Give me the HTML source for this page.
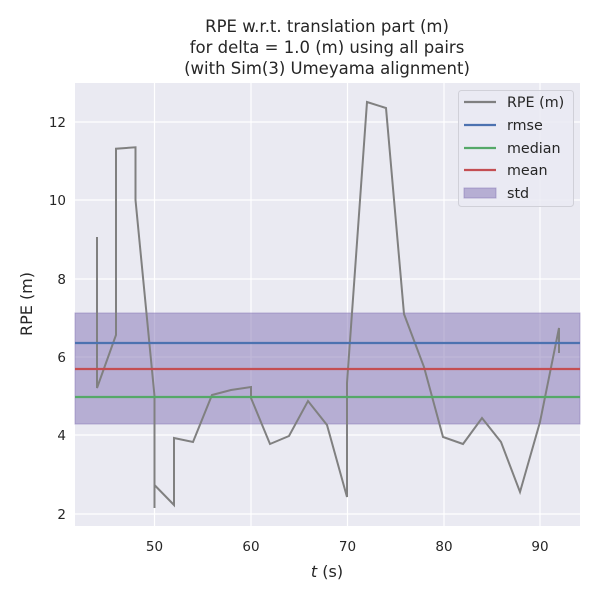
<!DOCTYPE html>
<html><head><meta charset="utf-8"><style>body{margin:0;background:#fff}svg{display:block}</style></head><body>
<svg width="600" height="600" xmlns="http://www.w3.org/2000/svg" font-family="DejaVu Sans, Liberation Sans, sans-serif">
<rect width="600" height="600" fill="#fff"/>
<rect x="75" y="83" width="505" height="443" fill="#eaeaf2"/>
<g stroke="#fff" stroke-width="1.2">
<line x1="154.5" y1="83" x2="154.5" y2="526"/><line x1="251" y1="83" x2="251" y2="526"/><line x1="347.5" y1="83" x2="347.5" y2="526"/><line x1="444" y1="83" x2="444" y2="526"/><line x1="540" y1="83" x2="540" y2="526"/>
<line x1="75" y1="122" x2="580" y2="122"/><line x1="75" y1="200" x2="580" y2="200"/><line x1="75" y1="279" x2="580" y2="279"/><line x1="75" y1="357" x2="580" y2="357"/><line x1="75" y1="435" x2="580" y2="435"/><line x1="75" y1="514" x2="580" y2="514"/>
</g>
<rect x="75" y="313" width="505" height="111" fill="#8172b3" fill-opacity="0.5" stroke="#8172b3" stroke-opacity="0.5"/>
<polyline fill="none" stroke="#808080" stroke-width="2" points="97,237 97,388 116,335 116,148.7 135.5,147.3 135.5,200 154.5,396 154.5,508 154.5,485 174,505 174,438 193,442 212,395 231,390 251,387 251,398 270,444 289,436 308,401 327,425 347,497 347,383 367,102 386,108 404,314 424,367 443,437 463,444 482,418 501,442 520,492 540,422 559,328 559,353"/>
<line x1="75" x2="580" y1="343" y2="343" stroke="#4c72b0" stroke-width="2.2"/>
<line x1="75" x2="580" y1="397" y2="397" stroke="#55a868" stroke-width="2.2"/>
<line x1="75" x2="580" y1="369" y2="369" stroke="#c44e52" stroke-width="2.2"/>
<g font-size="13.5" fill="#262626" text-anchor="middle">
<text x="154.5" y="551">50</text><text x="251" y="551">60</text><text x="347.5" y="551">70</text><text x="444" y="551">80</text><text x="540" y="551">90</text>
<text x="327" y="577" font-size="16"><tspan font-style="italic">t</tspan> (s)</text>
<text x="327" y="32" font-size="16.5">RPE w.r.t. translation part (m)</text>
<text x="327" y="53" font-size="16.5">for delta = 1.0 (m) using all pairs</text>
<text x="327" y="74" font-size="16.5">(with Sim(3) Umeyama alignment)</text>
</g>
<g font-size="13.5" fill="#262626" text-anchor="end">
<text x="66" y="127">12</text><text x="66" y="205">10</text><text x="66" y="284">8</text><text x="66" y="362">6</text><text x="66" y="440">4</text><text x="66" y="519">2</text>
</g>
<text x="32" y="304" font-size="16" fill="#262626" text-anchor="middle" transform="rotate(-90 32 304)">RPE (m)</text>
<rect x="458.5" y="90.5" width="115" height="116" rx="3" fill="#eaeaf2" fill-opacity="0.8" stroke="#d0d0d8"/>
<g stroke-width="2.2">
<line x1="464" x2="496" y1="102" y2="102" stroke="#808080"/>
<line x1="464" x2="496" y1="125" y2="125" stroke="#4c72b0"/>
<line x1="464" x2="496" y1="148" y2="148" stroke="#55a868"/>
<line x1="464" x2="496" y1="170" y2="170" stroke="#c44e52"/>
</g>
<rect x="464" y="188" width="32" height="10" fill="#8172b3" fill-opacity="0.5" stroke="#8172b3" stroke-opacity="0.5"/>
<g font-size="14.3" fill="#262626">
<text x="507" y="107">RPE (m)</text><text x="507" y="130">rmse</text><text x="507" y="153">median</text><text x="507" y="175">mean</text><text x="507" y="198">std</text>
</g>
</svg>
</body></html>
